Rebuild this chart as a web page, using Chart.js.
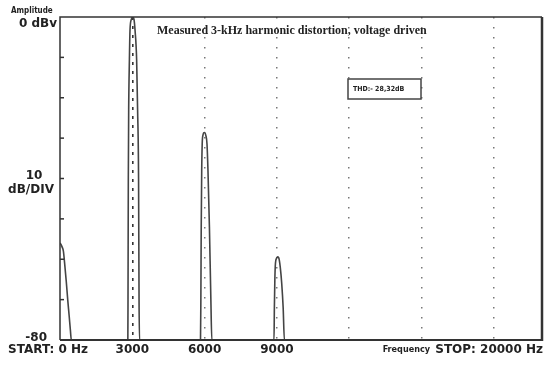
<!DOCTYPE html>
<html>
<head>
<meta charset="utf-8">
<script src="https://cdn.jsdelivr.net/npm/chart.js@4/dist/chart.umd.min.js"></script>
<style>
  html, body { margin: 0; padding: 0; background: #fff; }
  #wrap { width: 550px; height: 367px; position: relative; }
</style>
</head>
<body>
<div id="wrap"><canvas id="spectrum"></canvas></div>
<script>
// trace (Hz, dBV)
const dcFreq = [0, 40, 90, 140, 200, 260, 320, 380, 430, 470];
const dcLevel = [-56, -56.3, -57, -58, -61.5, -65.5, -70, -74, -77.5, -80];

const fundFreq = [2815, 2822, 2835, 2850, 2880, 2905, 2960, 3015, 3070, 3113, 3180, 3220, 3260, 3280, 3300];
const fundLevel = [-80, -70, -40, -23, -10.6, -3.2, -0.6, 0, -0.6, -3.2, -10.6, -23, -40, -70, -80];

const h2Freq = [5830, 5845, 5860, 5880, 5900, 5930, 5990, 6050, 6100, 6140, 6200, 6260, 6300];
const h2Level = [-80, -70, -52, -38, -31.5, -29.3, -28.6, -29.3, -31.5, -38, -52, -70, -80];

const h3Freq = [8880, 8895, 8915, 8940, 8990, 9035, 9080, 9140, 9200, 9260, 9310];
const h3Level = [-80, -72, -65, -61, -59.7, -59.4, -59.7, -62, -66, -72, -80];

const endFreq = [20000];
const endLevel = [-80];

const gridFreqs = [0, 3000, 6000, 9000, 12000, 15000, 18000];
const labelledFreqs = [3000, 6000, 9000];
const divTicks = [-10, -20, -30, -40, -50, -60, -70];

const titleText = "Measured 3-kHz harmonic distortion, voltage driven";
const thdText = "THD:- 28,32dB";

function toPoints(xs, ys) {
  return xs.map((x, i) => ({ x: x, y: ys[i] }));
}

const trace = [].concat(
  toPoints(dcFreq, dcLevel),
  toPoints(fundFreq, fundLevel),
  toPoints(h2Freq, h2Level),
  toPoints(h3Freq, h3Level),
  toPoints(endFreq, endLevel)
);

const INK = "#222";
const BOLD = "bold 12px 'DejaVu Sans'";

// frame, left tick stubs, captions
const overlay = {
  id: "overlay",
  afterDraw(chart) {
    const ctx = chart.ctx;
    const a = chart.chartArea;
    const ys = chart.scales.y;
    ctx.save();

    ctx.strokeStyle = "#333";
    ctx.lineWidth = 1.5;
    ctx.beginPath();
    ctx.moveTo(a.left, a.bottom);
    ctx.lineTo(a.left, a.top);
    ctx.lineTo(a.right, a.top);
    ctx.stroke();
    ctx.lineWidth = 2;
    ctx.beginPath();
    ctx.moveTo(a.left, a.bottom);
    ctx.lineTo(a.right, a.bottom);
    ctx.stroke();
    ctx.lineWidth = 2.5;
    ctx.beginPath();
    ctx.moveTo(a.right, a.top);
    ctx.lineTo(a.right, a.bottom + 1);
    ctx.stroke();

    ctx.lineWidth = 1.5;
    divTicks.forEach(v => {
      const y = ys.getPixelForValue(v);
      ctx.beginPath();
      ctx.moveTo(a.left, y);
      ctx.lineTo(a.left + 4, y);
      ctx.stroke();
    });

    ctx.fillStyle = INK;
    ctx.textBaseline = "middle";

    ctx.font = "bold 8px 'DejaVu Sans Condensed'";
    ctx.textAlign = "left";
    ctx.fillText("Amplitude", 11, 11);

    ctx.font = BOLD;
    ctx.textAlign = "right";
    ctx.fillText("0 dBv", 57, ys.getPixelForValue(0) + 7);
    ctx.fillText("-80", 47, ys.getPixelForValue(-80) - 2);
    ctx.textAlign = "center";
    ctx.fillText("10", 34, ys.getPixelForValue(-40) - 2.5);
    ctx.fillText("dB/DIV", 31, ys.getPixelForValue(-40) + 11);

    const yLab = a.bottom + 10;
    ctx.textAlign = "left";
    ctx.fillText("START: 0 Hz", 8, yLab);
    ctx.textAlign = "right";
    ctx.fillText("STOP: 20000 Hz", 543, yLab);
    ctx.font = "bold 9px 'DejaVu Sans Condensed'";
    ctx.fillText("Frequency", 430, yLab);

    ctx.font = "bold 12px 'Liberation Serif'";
    ctx.textAlign = "left";
    ctx.fillText(titleText, 157, 31);

    // THD read-out box
    ctx.fillStyle = "#fff";
    ctx.fillRect(348, 79, 73, 20);
    ctx.strokeStyle = "#444";
    ctx.lineWidth = 1.5;
    ctx.strokeRect(348, 79, 73, 20);
    ctx.fillStyle = INK;
    ctx.font = "bold 7px 'DejaVu Sans Condensed'";
    ctx.fillText(thdText, 353, 89);

    ctx.restore();
  }
};

new Chart(document.getElementById("spectrum"), {
  type: "line",
  data: {
    datasets: [{
      label: "Spectrum",
      data: trace,
      borderColor: "#444",
      borderWidth: 1.6,
      pointRadius: 0,
      fill: false,
      cubicInterpolationMode: "monotone"
    }]
  },
  options: {
    responsive: true,
    maintainAspectRatio: false,
    animation: false,
    layout: { padding: { left: 60, right: 8, top: 17, bottom: 6.6 } },
    plugins: {
      legend: { display: false },
      tooltip: { enabled: false },
      title: { display: false }
    },
    scales: {
      x: {
        type: "linear",
        min: 0,
        max: 20000,
        afterBuildTicks: scale => {
          scale.ticks = gridFreqs.map(v => ({ value: v }));
        },
        grid: {
          drawTicks: false,
          lineWidth: ctx => ctx.tick && ctx.tick.value === 3000 ? 1.6 : 1.5,
          color: ctx => {
            if (!ctx.tick || ctx.tick.value === 0) return "rgba(0,0,0,0)";
            return ctx.tick.value === 3000 ? "#333" : "#777";
          }
        },
        border: {
          display: false,
          dash: ctx => ctx.tick && ctx.tick.value === 3000 ? [3, 6] : [1.5, 8.5]
        },
        ticks: {
          autoSkip: false,
          maxRotation: 0,
          padding: 3,
          color: INK,
          font: { family: "DejaVu Sans", weight: "bold", size: 12 },
          callback: value => labelledFreqs.includes(value) ? String(value) : ""
        }
      },
      y: {
        display: false,
        min: -80,
        max: 0
      }
    }
  },
  plugins: [overlay]
});
</script>
</body>
</html>
